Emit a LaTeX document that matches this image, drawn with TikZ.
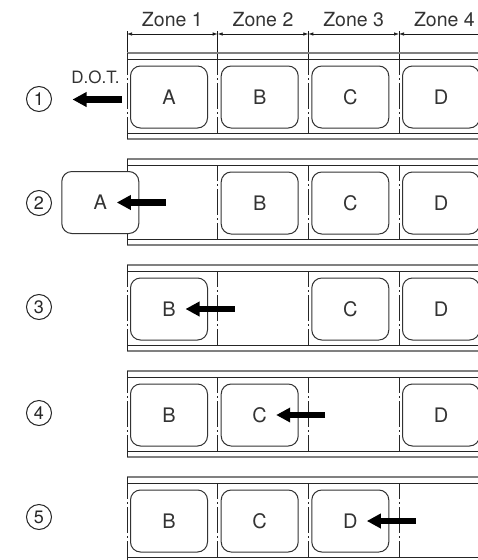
\documentclass[tikz,border=0pt]{standalone}
\usepackage{fontspec}
\setmainfont{TeX Gyre Heros}
\usetikzlibrary{arrows.meta}
\begin{document}
\begin{tikzpicture}[x=1pt,y=-1pt,
  belt outer/.style={draw=black!50, line width=1.4pt},
  belt inner/.style={draw=black!85, line width=0.9pt},
  edgechain/.style={draw=black!85, line width=0.9pt, dash pattern=on 22pt off 3pt on 2pt off 3pt on 26pt off 3pt on 2pt off 3pt on 22pt},
  divchain/.style={draw=black!85, line width=0.9pt, dash pattern=on 16pt off 3pt on 2pt off 3pt on 26pt off 3pt on 2pt off 3pt on 16pt},
  extline/.style={draw=black!90, line width=0.9pt},
  tray/.style={draw=black!80, line width=1pt, rounded corners=10pt, fill=white, minimum width=77pt, minimum height=62pt, inner sep=0pt, font=\fontsize{20}{20}\selectfont, text=black!80},
  stepnum/.style={circle, draw=black!85, line width=1pt, minimum size=25pt, inner sep=0pt, font=\fontsize{18}{18}\selectfont, text=black!85},
  movearrow/.style={line width=6.5pt, -{Triangle[length=14pt,width=14pt]}},
  dimline/.style={draw=black!90, line width=0.7pt, {Latex[length=5pt,width=3.5pt]}-{Latex[length=5pt,width=3.5pt]}},
  zonelabel/.style={anchor=base, font=\fontsize{19.5}{20}\selectfont, text=black!80, inner sep=0pt},
  dotlabel/.style={font=\fontsize{17}{17}\selectfont, text=black!80, inner sep=0pt},
]
\clip (0,0) rectangle (478,560);
\useasboundingbox (0,0) rectangle (478,560);

% zone dimensions
\foreach \i/\xa/\xb in {1/127/217.7, 2/217.7/308.3, 3/308.3/399, 4/399/489.7} {
  \coordinate (za\i) at (\xa,34);
  \coordinate (zb\i) at (\xb,34);
  \draw[dimline] (za\i) -- (zb\i);
  \node[zonelabel] (zl\i) at ({(\xa+\xb)/2},26.5) {Zone \i};
}
\coordinate (ex0t) at (127,31);   \coordinate (ex0b) at (127,53);
\draw[extline] (ex0t) -- (ex0b);
\foreach \i/\x in {1/217.7, 2/308.3, 3/399} {
  \coordinate (ex\i t) at (\x,31);
  \coordinate (ex\i b) at (\x,59);
  \draw[extline] (ex\i t) -- (ex\i b);
}

% belts
\foreach \k/\T in {1/53, 2/159, 3/265, 4/371, 5/477} {
  \coordinate (bo\k l) at (127,\T);       \coordinate (bo\k r) at (478,\T);
  \coordinate (bi\k l) at (127,\T+6);     \coordinate (bi\k r) at (478,\T+6);
  \coordinate (bj\k l) at (127,\T+80);    \coordinate (bj\k r) at (478,\T+80);
  \coordinate (bp\k l) at (127,\T+86);    \coordinate (bp\k r) at (478,\T+86);
  \draw[belt outer] (bo\k l) -- (bo\k r);
  \draw[belt inner] (bi\k l) -- (bi\k r);
  \draw[belt inner] (bj\k l) -- (bj\k r);
  \draw[belt outer] (bp\k l) -- (bp\k r);
  \draw[edgechain] (bo\k l) -- (bp\k l);
  \foreach \j/\x in {1/217.7, 2/308.3, 3/399} {
    \coordinate (dv\k\j t) at (\x,\T+6);
    \coordinate (dv\k\j b) at (\x,\T+80);
    \draw[divchain] (dv\k\j t) -- (dv\k\j b);
  }
}

% step numbers
\node[stepnum] (s1) at (39,99) {1};
\node[stepnum] (s2) at (39,203) {2};
\node[stepnum] (s3) at (39,307) {3};
\node[stepnum] (s4) at (39,413) {4};
\node[stepnum] (s5) at (39,517) {5};

% belt 1
\node[tray] (a1) at (169,97) {A};
\node[tray] (b1) at (259.7,97) {B};
\node[tray] (c1) at (350.3,97) {C};
\node[tray] (d1) at (441,97) {D};
\node[dotlabel] (dot) at (95.5,77) {D.O.T.};
\coordinate (g1s) at (122,99.5);
\coordinate (g1e) at (72.5,99.5);
\draw[movearrow] (g1s) -- (g1e);

% belt 2
\node[tray] (a2) at (100.3,202.5) {A};
\node[tray] (b2) at (259.7,203) {B};
\node[tray] (c2) at (350.3,203) {C};
\node[tray] (d2) at (441,203) {D};
\draw[movearrow] ([xshift=65.5pt]a2.center) -- ([xshift=16.5pt]a2.center);

% belt 3
\node[tray] (b3) at (169,309) {B};
\node[tray] (c3) at (350.3,309) {C};
\node[tray] (d3) at (441,309) {D};
\draw[movearrow] ([xshift=65.5pt]b3.center) -- ([xshift=16.5pt]b3.center);

% belt 4
\node[tray] (b4) at (169,415) {B};
\node[tray] (c4) at (259.7,415) {C};
\node[tray] (d4) at (441,415) {D};
\draw[movearrow] ([xshift=65.5pt]c4.center) -- ([xshift=16.5pt]c4.center);

% belt 5
\node[tray] (b5) at (169,521) {B};
\node[tray] (c5) at (259.7,521) {C};
\node[tray] (d5) at (350.3,521) {D};
\draw[movearrow] ([xshift=65.5pt]d5.center) -- ([xshift=16.5pt]d5.center);
\end{tikzpicture}
\end{document}
